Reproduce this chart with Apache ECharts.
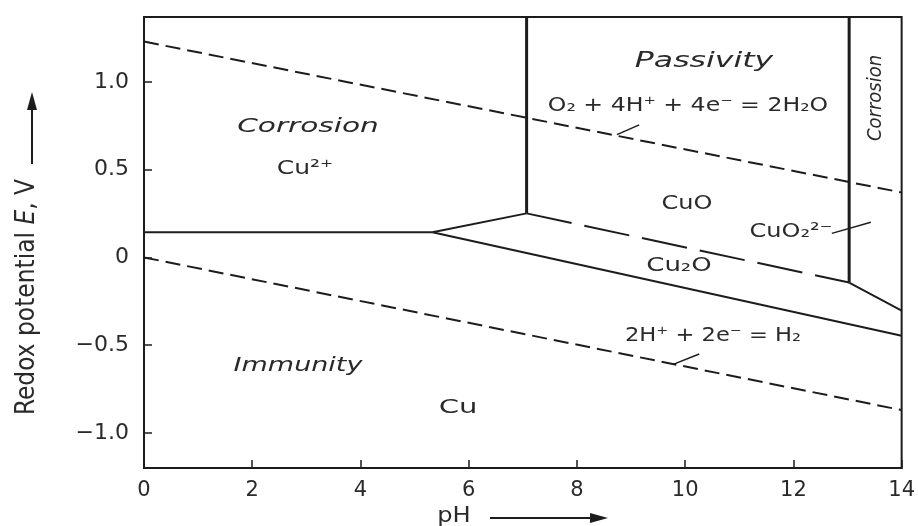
<!DOCTYPE html>
<html>
<head>
<meta charset="utf-8">
<script src="https://cdn.jsdelivr.net/npm/echarts@6/dist/echarts.min.js"></script>
<style>
  html, body { margin: 0; padding: 0; background: #fff; }
  #chart { width: 918px; height: 526px; }
</style>
</head>
<body>
<div id="chart"></div>
<script>
// axis ranges and ticks
const phRange = [0, 14];
const eRange = [-1.2, 1.37];
const eTicks = [-1, -0.5, 0, 0.5, 1];

// water stability lines (dashed)
const o2Line = [[0, 1.23], [14, 0.37]];
const h2Line = [[0, 0.0], [14, -0.87]];

// copper phase boundaries [pH, E]
const cu2Cu = [[0, 0.143], [5.33, 0.143]];
const cu2Cu2o = [[5.33, 0.143], [7.07, 0.251]];
const cu2Cuo = [[7.07, 0.251], [7.07, 1.37]];
const cuCu2o = [[5.33, 0.143], [14, -0.446]];
const cuoCu2o = [[7.07, 0.251], [13.03, -0.143]];
const cuoCuo2 = [[13.03, -0.143], [13.03, 1.37]];
const cu2oCuo2 = [[13.03, -0.143], [14, -0.303]];

// short leader strokes pointing at the labels
const o2Leader = [[8.74, 0.70], [9.15, 0.755]];
const cuo2Leader = [[12.71, 0.137], [13.43, 0.20]];
const h2Leader = [[9.79, -0.608], [10.26, -0.55]];

const chart = echarts.init(document.getElementById('chart'));
const ink = '#1c1c1c';
const txt = '#2a2a2a';
const font = 'DejaVu Sans';

function seg(data, width, dash) {
  return {
    type: 'line',
    data: data,
    symbol: 'none',
    silent: true,
    animation: false,
    lineStyle: { color: ink, width: width, type: dash || 'solid' }
  };
}

// region labels: the original lettering is wide, so stretch horizontally
function label(x, y, text, size, italic, sx, extra) {
  return Object.assign({
    type: 'text',
    x: x,
    y: y,
    scaleX: sx || 1,
    style: {
      text: text,
      fill: txt,
      font: (italic ? 'italic ' : '') + size + 'px "' + font + '"',
      align: 'center',
      verticalAlign: 'middle'
    }
  }, extra || {});
}

chart.setOption({
  backgroundColor: '#fff',
  animation: false,
  grid: {
    left: 144, right: 15, top: 17, bottom: 58,
    show: true, borderColor: ink, borderWidth: 2
  },
  xAxis: {
    type: 'value',
    min: phRange[0], max: phRange[1], interval: 2,
    axisLine: { show: true, onZero: false, lineStyle: { color: ink, width: 2 } },
    axisTick: { show: true, inside: true, length: 8, lineStyle: { color: ink, width: 1.5 } },
    axisLabel: { color: txt, fontFamily: font, fontSize: 21, margin: 12 },
    splitLine: { show: false }
  },
  yAxis: {
    type: 'value',
    min: eRange[0], max: eRange[1],
    axisLine: { show: true, onZero: false, lineStyle: { color: ink, width: 2 } },
    axisTick: { show: true, inside: true, length: 8, customValues: eTicks, lineStyle: { color: ink, width: 1.5 } },
    axisLabel: {
      color: txt, fontFamily: font, fontSize: 22, margin: 15,
      customValues: eTicks,
      formatter: function (v) {
        if (v === 0) return '0';
        return (v < 0 ? '\u2212' : '') + Math.abs(v).toFixed(1);
      }
    },
    splitLine: { show: false }
  },
  series: [
    seg(o2Line, 2, [15, 7]),
    seg(h2Line, 2, [15, 7]),
    seg(cu2Cu, 2),
    seg(cu2Cu2o, 2),
    seg(cu2Cuo, 3),
    seg(cuCu2o, 2),
    seg(cuoCu2o, 2, [46, 13]),
    seg(cuoCuo2, 3),
    seg(cu2oCuo2, 2),
    seg(o2Leader, 1.5),
    seg(cuo2Leader, 1.5),
    seg(h2Leader, 1.5)
  ],
  graphic: [
    label(308, 127, 'Corrosion', 20, true, 1.48),
    label(305, 169, 'Cu\u00b2\u207a', 20, false, 1.25),
    label(704, 62, 'Passivity', 21, true, 1.5),
    label(688, 106, 'O\u2082 + 4H\u207a + 4e\u207b = 2H\u2082O', 20, false, 1.18),
    {
      type: 'text', x: 876, y: 98, rotation: Math.PI / 2,
      style: {
        text: 'Corrosion', fill: txt,
        font: 'italic 20px "DejaVu Sans Condensed"',
        align: 'center', verticalAlign: 'middle'
      }
    },
    label(687, 204, 'CuO', 20, false, 1.2),
    label(791, 232, 'CuO\u2082\u00b2\u207b', 20, false, 1.2),
    label(679, 266, 'Cu\u2082O', 20, false, 1.3),
    label(713, 336, '2H\u207a + 2e\u207b = H\u2082', 20, false, 1.13),
    label(298, 366, 'Immunity', 20, true, 1.35),
    label(458, 408, 'Cu', 20, false, 1.45),
    // y axis title with arrow
    {
      type: 'text',
      x: 27, y: 297,
      rotation: Math.PI / 2,
      style: {
        text: '{a|Redox potential }{b|E}{a|, V}',
        align: 'center',
        verticalAlign: 'middle',
        rich: {
          a: { fill: txt, fontFamily: 'DejaVu Sans Condensed', fontSize: 26 },
          b: { fill: txt, fontFamily: 'DejaVu Sans Condensed', fontSize: 26, fontStyle: 'italic' }
        }
      }
    },
    { type: 'line', shape: { x1: 32, y1: 164, x2: 32, y2: 106 }, style: { stroke: ink, lineWidth: 2 } },
    { type: 'polygon', shape: { points: [[32, 92], [27, 110], [37, 110]] }, style: { fill: ink } },
    // x axis title with arrow
    label(454, 517, 'pH', 21, false, 1.15),
    { type: 'line', shape: { x1: 490, y1: 518, x2: 592, y2: 518 }, style: { stroke: ink, lineWidth: 2 } },
    { type: 'polygon', shape: { points: [[608, 518], [590, 513], [590, 523]] }, style: { fill: ink } }
  ]
});
</script>
</body>
</html>
